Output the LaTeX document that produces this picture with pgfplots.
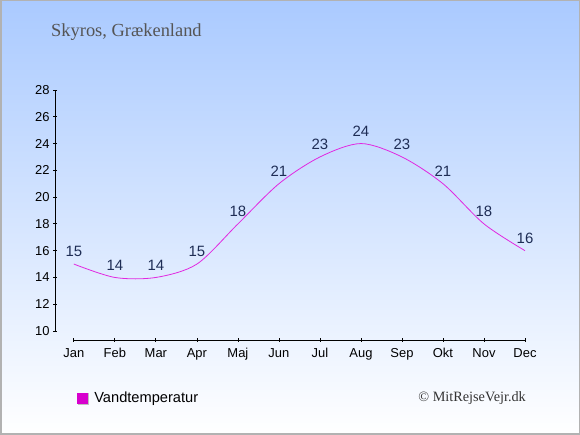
\documentclass[border=0pt]{standalone}
\usepackage{pgfplots}
\pgfplotsset{compat=1.18}
\usepackage{fontspec}
\setmainfont{Liberation Sans}
\newfontfamily\serif{Liberation Serif}
\definecolor{bgtop}{RGB}{170,202,255}
\definecolor{lbl}{RGB}{30,45,85}
\definecolor{linec}{RGB}{225,40,225}
\definecolor{sq}{RGB}{215,0,205}
\definecolor{ttl}{RGB}{85,85,85}
\begin{document}
\begin{tikzpicture}[x=1bp,y=1bp]
\shade[top color=bgtop, bottom color=white] (0,0) rectangle (580,435);
\draw[gray!60, line width=1.5bp] (0.75,0.75) rectangle (579.25,434.25);
\node[anchor=base west, inner sep=0, font=\serif\fontsize{18.5}{18.5}\selectfont, text=ttl] at (51,398) {Skyros, Grækenland};
\node[anchor=base east, inner sep=0, font=\serif\fontsize{14.3}{14.3}\selectfont, text=black!80] at (526,33) {© MitRejseVejr.dk};
\begin{axis}[
  at={(55bp,95bp)}, anchor=south west, scale only axis,
  width=470bp, height=250bp,
  xmin=-0.46, xmax=11, ymin=9.33, ymax=28,
  axis lines*=left, axis line style={draw=none},
  xtick={0,...,11},
  xticklabels={Jan,Feb,Mar,Apr,Maj,Jun,Jul,Aug,Sep,Okt,Nov,Dec},
  ytick={10,12,...,28},
  tick align=center, major tick length=4bp,
  tick style={black, line width=0.8bp},
  tick label style={font=\fontsize{13}{13}\selectfont, text=black},
  /pgf/number format/assume math mode=true,
  xticklabel style={yshift=-3bp},
  yticklabel style={xshift=0bp},
  clip=false,
  nodes near coords,
  every node near coord/.append style={font=\fontsize{15}{15}\selectfont, text=lbl, anchor=south, yshift=3.5bp},
  legend style={at={(0.047,-0.232)}, anchor=west, draw=none, fill=none, font=\fontsize{14.7}{14.7}\selectfont, inner sep=0pt, nodes={inner xsep=5bp}},
  legend image code/.code={\fill[gray!50] (1.2bp,-6.2bp) rectangle (11.2bp,4.2bp); \fill[sq] (0bp,-5bp) rectangle (10bp,5bp);},
]
\draw[black, line width=0.8bp] (axis cs:0,9.33) -- (axis cs:11,9.33);
\draw[black, line width=0.8bp] (axis cs:-0.46,10) -- (axis cs:-0.46,28);
\addplot[linec, line width=0.8bp, smooth] coordinates {
(0,15) (1,14) (2,14) (3,15) (4,18) (5,21) (6,23) (7,24) (8,23) (9,21) (10,18) (11,16)};
\addlegendentry{Vandtemperatur}
\end{axis}
\pgfresetboundingbox
\useasboundingbox (0,0) rectangle (580,435);
\end{tikzpicture}
\end{document}
